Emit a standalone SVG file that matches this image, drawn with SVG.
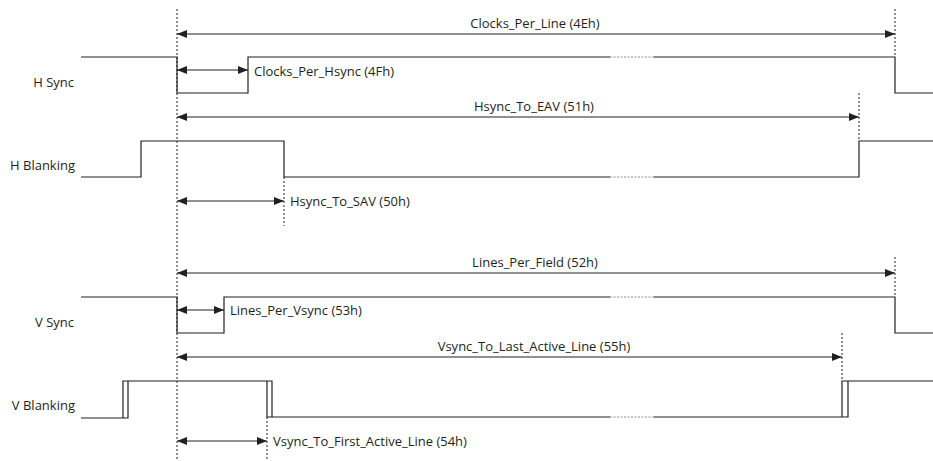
<svg xmlns="http://www.w3.org/2000/svg" width="933" height="461" viewBox="0 0 933 461">
<style>
.w{fill:none;stroke:#231f20;stroke-width:1.2}
.br{fill:none;stroke:#8a8a8a;stroke-width:1;stroke-dasharray:2 1.5}
.g{fill:none;stroke:#231f20;stroke-width:1;stroke-dasharray:2 2}
.a{fill:none;stroke:#231f20;stroke-width:1;marker-start:url(#ah);marker-end:url(#ah)}
.t{font-family:"Open Sans","Noto Sans",sans-serif;font-size:13px;fill:#231f20}
.m{text-anchor:middle}
.e{text-anchor:end}
</style>
<defs>
<marker id="ah" viewBox="0 0 10 8" refX="10" refY="4" markerWidth="10" markerHeight="8" markerUnits="userSpaceOnUse" orient="auto-start-reverse">
<path d="M0,0 L10,4 L0,8 z" fill="#231f20"/>
</marker>
</defs>
<g id="guides">
<line class="g" x1="177" y1="9" x2="177" y2="461"/>
<line class="g" x1="895" y1="9" x2="895" y2="57"/>
<line class="g" x1="859" y1="93" x2="859" y2="141"/>
<line class="g" x1="284" y1="177" x2="284" y2="226"/>
<line class="g" x1="895" y1="257" x2="895" y2="297"/>
<line class="g" x1="842" y1="333" x2="842" y2="381"/>
<line class="g" x1="267" y1="417" x2="267" y2="461"/>
</g>
<g id="hsync">
<text class="t e" x="74" y="86.5">H Sync</text>
<path class="w" d="M81,57 H177 V93 H248 V57 H610"/>
<line class="br" x1="610" y1="57" x2="654" y2="57"/>
<path class="w" d="M654,57 H895 V93 H933"/>
</g>
<g id="hblanking">
<text class="t e" x="75" y="170">H Blanking</text>
<path class="w" d="M81,177 H141 V141 H284 V177 H610"/>
<line class="br" x1="610" y1="177" x2="654" y2="177"/>
<path class="w" d="M654,177 H859 V141 H933"/>
</g>
<g id="vsync">
<text class="t e" x="74" y="327">V Sync</text>
<path class="w" d="M81,297 H177 V333 H224 V297 H610"/>
<line class="br" x1="610" y1="297" x2="654" y2="297"/>
<path class="w" d="M654,297 H895 V333 H933"/>
</g>
<g id="vblanking">
<text class="t e" x="75" y="410">V Blanking</text>
<path class="w" d="M81,418 H128 V381"/>
<path class="w" d="M123,418 V381 H272 V417"/>
<path class="w" d="M267,381 V417 H610"/>
<line class="br" x1="610" y1="417" x2="654" y2="417"/>
<path class="w" d="M654,417 H848 V381"/>
<path class="w" d="M842,417 V381 H933"/>
</g>
<g id="connectors">
<line class="a" x1="177" y1="34" x2="895" y2="34"/>
<text class="t m" x="535" y="28">Clocks_Per_Line (4Eh)</text>
<line class="a" x1="177" y1="70" x2="248" y2="70"/>
<text class="t" x="254" y="75.5">Clocks_Per_Hsync (4Fh)</text>
<line class="a" x1="177" y1="117" x2="859" y2="117"/>
<text class="t m" x="534" y="111">Hsync_To_EAV (51h)</text>
<line class="a" x1="177" y1="201" x2="284" y2="201"/>
<text class="t" x="290" y="206">Hsync_To_SAV (50h)</text>
<line class="a" x1="177" y1="273" x2="895" y2="273"/>
<text class="t m" x="535" y="267">Lines_Per_Field (52h)</text>
<line class="a" x1="177" y1="310" x2="224" y2="310"/>
<text class="t" x="230" y="315">Lines_Per_Vsync (53h)</text>
<line class="a" x1="177" y1="357" x2="842" y2="357"/>
<text class="t m" x="534" y="351">Vsync_To_Last_Active_Line (55h)</text>
<line class="a" x1="177" y1="441" x2="267" y2="441"/>
<text class="t" x="273" y="445.5">Vsync_To_First_Active_Line (54h)</text>
</g>
</svg>
